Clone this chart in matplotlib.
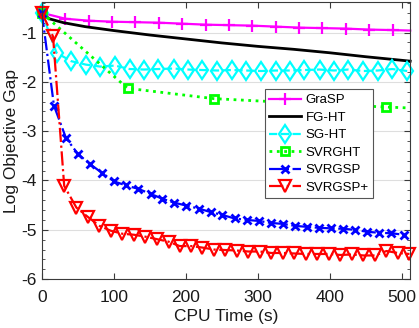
#!/usr/bin/env python3
# -*- coding: utf-8 -*-

import matplotlib
matplotlib.use('Agg')
import matplotlib.pyplot as plt
from matplotlib.ticker import MultipleLocator

# данные
grasp_t = [0, 32.5, 65, 97.5, 130, 162.5, 195, 227.5, 260, 292.5, 325,
           357.5, 390, 422.5, 455, 487.5, 512]
grasp_y = [-0.6, -0.72, -0.76, -0.78, -0.79, -0.80, -0.82, -0.84, -0.85,
           -0.86, -0.88, -0.90, -0.91, -0.92, -0.94, -0.95, -0.96]

fght_t = [0, 10, 30, 60, 100, 150, 200, 250, 300, 350, 400, 450, 512]
fght_y = [-0.6, -0.72, -0.80, -0.88, -0.96, -1.05, -1.13, -1.21, -1.28,
          -1.34, -1.41, -1.49, -1.58]

sght_t = [0, 20.3, 40.6, 61, 81, 101.5, 122, 142, 162, 183, 203, 223, 244,
          264, 284, 305, 325, 345, 365, 386, 406, 426, 447, 467, 487, 508]
sght_y = [-0.6, -1.41, -1.58, -1.65, -1.69, -1.67, -1.74, -1.75, -1.74,
          -1.73, -1.75, -1.76, -1.77, -1.76, -1.77, -1.78, -1.77, -1.77,
          -1.76, -1.75, -1.77, -1.75, -1.78, -1.77, -1.74, -1.78]

svrght_t = [0, 119, 239, 358, 478, 512]
svrght_y = [-0.6, -2.13, -2.34, -2.43, -2.51, -2.53]

svrgsp_t = [0, 16.7, 33.5, 50, 67, 84, 100.5, 117, 134, 151, 167.5, 184,
            201, 218, 234.5, 251, 268, 285, 301.5, 318, 335, 352, 368.5,
            385, 402, 419, 435.5, 452, 469, 486, 503]
svrgsp_y = [-0.6, -2.48, -3.14, -3.46, -3.67, -3.85, -4.02, -4.10, -4.17,
            -4.27, -4.37, -4.45, -4.51, -4.57, -4.64, -4.70, -4.77, -4.80,
            -4.82, -4.86, -4.88, -4.92, -4.94, -4.96, -4.97, -4.98, -5.00,
            -5.04, -5.06, -5.07, -5.10]

svrgspp_t = [0, 15.5, 31, 48, 64, 80, 96, 112, 128, 144, 160, 176, 191.5,
             207.5, 223, 239, 255, 271, 287, 303, 319, 335, 351, 367, 383,
             399, 415, 431, 447, 463, 479, 495, 511]
svrgspp_y = [-0.6, -1.08, -4.11, -4.55, -4.74, -4.92, -5.02, -5.08, -5.10,
             -5.14, -5.19, -5.24, -5.33, -5.33, -5.36, -5.40, -5.41, -5.42,
             -5.44, -5.44, -5.47, -5.47, -5.48, -5.49, -5.49, -5.49, -5.51,
             -5.50, -5.52, -5.52, -5.43, -5.47, -5.49]

x_ticks = [0, 100, 200, 300, 400, 500]
y_ticks = [-6, -5, -4, -3, -2, -1]

plt.rcParams['font.family'] = ['Liberation Sans', 'DejaVu Sans']
plt.rcParams['axes.unicode_minus'] = False

axcol = '#3a3a3a'

fig = plt.figure(figsize=(4.19, 3.28), dpi=100)
ax = fig.add_axes([0.100, 0.149, 0.879, 0.845])

lw = 1.6
ax.plot(grasp_t, grasp_y, '-', color='#ff00ff', lw=lw, marker='+', ms=9,
        mew=1.6, markevery=list(range(len(grasp_t) - 1)), label='GraSP',
        clip_on=False)
ax.plot(fght_t, fght_y, '-', color='black', lw=2.0, label='FG-HT',
        clip_on=False)
ax.plot(sght_t, sght_y, '--', color='#00ffff', lw=lw, marker='d', ms=9.5,
        mew=1.6, mfc='none', label='SG-HT', clip_on=False)
ax.plot(svrght_t, svrght_y, ':', color='#00ff00', lw=2.0, marker='s', ms=6,
        mew=2.0, mfc='none', markevery=list(range(len(svrght_t) - 1)),
        label='SVRGHT', clip_on=False)
ax.plot(svrgsp_t, svrgsp_y, '-.', color='#0000ff', lw=lw, marker='x', ms=6,
        mew=2.0, label='SVRGSP', clip_on=False)
ax.plot(svrgspp_t, svrgspp_y, '-.', color='#ff0000', lw=lw, marker='v',
        ms=8.5, mew=1.6, mfc='none', label='SVRGSP+', clip_on=False)

ax.set_xlim(0, 512)
ax.set_ylim(-6, -0.38)
ax.set_xticks(x_ticks)
ax.set_yticks(y_ticks)
ax.yaxis.set_minor_locator(MultipleLocator(0.2))

ax.grid(True, axis='y', which='major', color='#dedede', lw=0.8)
ax.set_axisbelow(True)

ax.tick_params(which='both', direction='in', top=True, right=True,
               colors=axcol, labelcolor='#1a1a1a', labelsize=12.5)
ax.tick_params(which='major', length=4.5)
ax.tick_params(which='minor', length=2.5)
ax.tick_params(axis='x', pad=8)
for s in ax.spines.values():
    s.set_color(axcol)

ax.set_xlabel('CPU Time (s)', fontsize=12.5, color='#1a1a1a', labelpad=3)
ax.set_ylabel('Log Objective Gap', fontsize=12.5, color='#1a1a1a',
              labelpad=2)

leg = ax.legend(loc='upper right', bbox_to_anchor=(0.9, 0.685),
                fontsize=9.5, fancybox=False, framealpha=1,
                edgecolor='#555555', handlelength=2.4, labelspacing=0.4,
                borderpad=0.35, handletextpad=0.35, borderaxespad=0)
leg.get_frame().set_linewidth(0.8)
leg.set_zorder(10)

fig.savefig('out.png', dpi=100)
